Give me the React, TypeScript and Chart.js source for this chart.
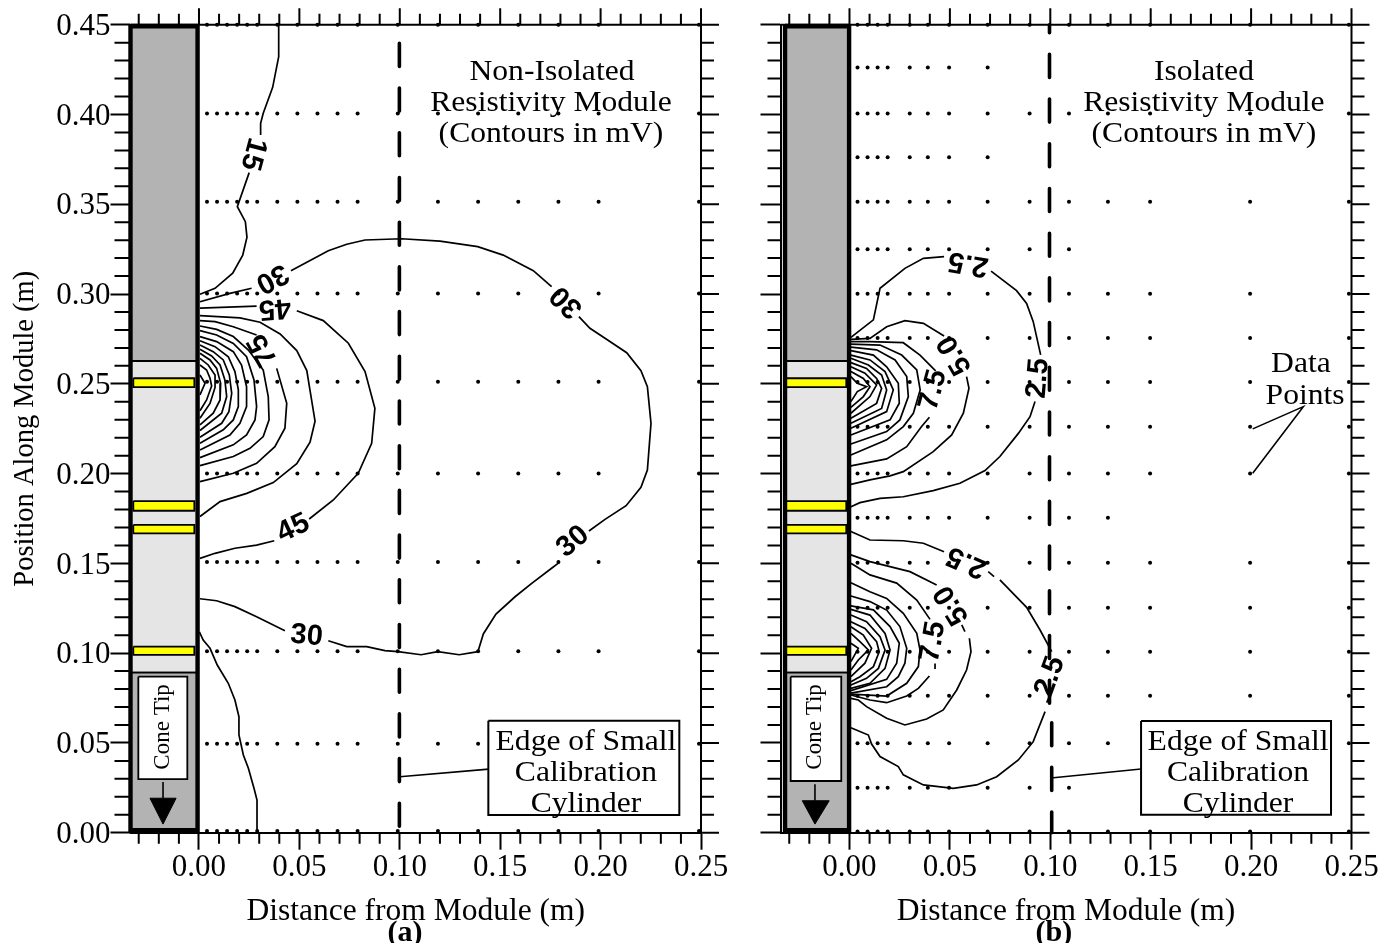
import React, { useEffect, useRef } from "react";
import { Chart, registerables } from "chart.js";

Chart.register(...registerables);

type P = [number, number];

const X_MAJOR = [0, 0.05, 0.1, 0.15, 0.2, 0.25];
const X_MINOR = [-0.03, -0.02, -0.01, 0.01, 0.02, 0.03, 0.04, 0.06, 0.07, 0.08, 0.09, 0.11, 0.12, 0.13, 0.14, 0.16, 0.17, 0.18, 0.19, 0.21, 0.22, 0.23, 0.24];
const Y_MAJOR = [0, 0.05, 0.1, 0.15, 0.2, 0.25, 0.3, 0.35, 0.4, 0.45];
const Y_MINOR = [0.01, 0.02, 0.03, 0.04, 0.06, 0.07, 0.08, 0.09, 0.11, 0.12, 0.13, 0.14, 0.16, 0.17, 0.18, 0.19, 0.21, 0.22, 0.23, 0.24, 0.26, 0.27, 0.28, 0.29, 0.31, 0.32, 0.33, 0.34, 0.36, 0.37, 0.38, 0.39, 0.41, 0.42, 0.43, 0.44];

// data point grid, panel (a)
const LEFT_DOT_X = [0.004, 0.009, 0.014, 0.019, 0.024, 0.029, 0.039, 0.049, 0.059, 0.069, 0.079, 0.099, 0.119, 0.139, 0.159, 0.179, 0.199, 0.249];
const LEFT_DOT_Y = [0.45, 0.4006, 0.3514, 0.3003, 0.2512, 0.2001, 0.1507, 0.101, 0.0496, 0.0009];

// data point grid, panel (b)
const RIGHT_DOT_X = [0.004, 0.009, 0.014, 0.019, 0.03, 0.039, 0.0496, 0.0688, 0.0897, 0.1093, 0.1287, 0.1497, 0.1995, 0.2487];
const RIGHT_DOT_X_SHORT = [0.004, 0.009, 0.014, 0.019, 0.03, 0.039, 0.0496, 0.0688];
const RIGHT_DOT_X_MID = [0.004, 0.009, 0.014, 0.019, 0.03, 0.039, 0.0496, 0.0688, 0.0897, 0.1093];
const RIGHT_DOT_X_MID2 = [0.004, 0.009, 0.014, 0.019, 0.03, 0.039, 0.0496, 0.0688, 0.0897, 0.1093, 0.1287];
const RIGHT_ROWS_FULL = [0.45, 0.4006, 0.3514, 0.3002, 0.2755, 0.251, 0.2261, 0.2, 0.1504, 0.1253, 0.1008, 0.0763, 0.0498, 0.0006];
const RIGHT_ROWS_SHORT = [0.4262, 0.3762];
const RIGHT_ROWS_MID = [0.325, 0.0251];
const RIGHT_ROWS_MID2 = [0.1754];

// contours, panel (a)
const A15_TOP_1: P[] = [[0.0397, 0.4499], [0.0397, 0.4322], [0.0367, 0.4151], [0.032, 0.4007], [0.0307, 0.3951], [0.0307, 0.3886]];
const A15_TOP_2: P[] = [[0.025, 0.3676], [0.0191, 0.3486], [0.0231, 0.3403], [0.0239, 0.3316], [0.0218, 0.3217], [0.0168, 0.3116], [0.008, 0.3032], [0.0005, 0.2999]];
const A15_LOW: P[] = [[0.0002, 0.1118], [0.0021, 0.1073], [0.0055, 0.1027], [0.0091, 0.0934], [0.0146, 0.0832], [0.0179, 0.0739], [0.0199, 0.0646], [0.0199, 0.0544], [0.0221, 0.0433], [0.0246, 0.0359], [0.0274, 0.0247], [0.0289, 0.0182], [0.0289, 0]];
const A30_1: P[] = [[0.0005, 0.2957], [0.0154, 0.3004], [0.0262, 0.3032]];
const A30_2: P[] = [[0.0458, 0.313], [0.0644, 0.3241], [0.0736, 0.3277], [0.0827, 0.3301], [0.1009, 0.3308], [0.12, 0.3295], [0.1388, 0.3264], [0.1515, 0.3217], [0.1665, 0.313], [0.1756, 0.3041]];
const A30_3: P[] = [[0.1892, 0.2874], [0.1947, 0.2809], [0.2022, 0.2754], [0.213, 0.2673], [0.2201, 0.2573], [0.2233, 0.2484], [0.2251, 0.228], [0.2233, 0.202], [0.2201, 0.1924], [0.2127, 0.1821], [0.2022, 0.1745], [0.1942, 0.168]];
const A30_4: P[] = [[0.1793, 0.1504], [0.1756, 0.1473], [0.1657, 0.1389], [0.1574, 0.1314], [0.1479, 0.1218], [0.1416, 0.1107], [0.1389, 0.1008], [0.1296, 0.0991], [0.1189, 0.1008], [0.1106, 0.0991], [0.0991, 0.1008], [0.0926, 0.1014], [0.0835, 0.1036], [0.0736, 0.1036], [0.0644, 0.1069]];
const A30_5: P[] = [[0.0428, 0.1125], [0.0287, 0.1203], [0.0179, 0.1259], [0.0088, 0.1292], [0.0005, 0.1303]];
const A45_1: P[] = [[0.0005, 0.2921], [0.0287, 0.2933]];
const A45_2: P[] = [[0.0487, 0.2907], [0.0619, 0.2852], [0.0744, 0.2726], [0.0827, 0.2568], [0.0876, 0.2364], [0.086, 0.2169], [0.0793, 0.2002], [0.0669, 0.1853], [0.0549, 0.1747]];
const A45_3: P[] = [[0.0375, 0.1626], [0.0287, 0.1602], [0.0179, 0.1584], [0.008, 0.1556], [0.0005, 0.1528]];
const A60: P[] = [[0.0005, 0.288], [0.0204, 0.2867], [0.0304, 0.2843], [0.0404, 0.2778], [0.0487, 0.2685], [0.0537, 0.2574], [0.0553, 0.2463], [0.0578, 0.2292], [0.0553, 0.2175], [0.0487, 0.2055], [0.037, 0.195], [0.0238, 0.189], [0.0105, 0.1844], [0.0005, 0.1761]];
const A75_1: P[] = [[0.0005, 0.2852], [0.008, 0.2846], [0.0171, 0.2818], [0.0287, 0.2772]];
const A75_2: P[] = [[0.0387, 0.2586], [0.0437, 0.2391], [0.0428, 0.2253], [0.0378, 0.215], [0.0287, 0.2057], [0.0171, 0.2002], [0.0005, 0.1955]];
const A90: P[] = [[0.0005, 0.2822], [0.0088, 0.2803], [0.0171, 0.2763], [0.0246, 0.2688], [0.032, 0.2577], [0.0345, 0.2429], [0.0349, 0.2299], [0.032, 0.2206], [0.0254, 0.2141], [0.0171, 0.2095], [0.0005, 0.2044]];
const A105: P[] = [[0.0005, 0.2796], [0.0088, 0.2772], [0.0171, 0.2725], [0.0237, 0.2651], [0.0274, 0.2521], [0.0287, 0.2373], [0.0279, 0.2299], [0.0237, 0.2215], [0.0171, 0.216], [0.0005, 0.2089]];
const A120: P[] = [[0.0005, 0.2763], [0.0088, 0.2735], [0.0171, 0.2679], [0.0212, 0.2605], [0.0237, 0.2484], [0.0237, 0.2373], [0.0204, 0.228], [0.0154, 0.2215], [0.0005, 0.2132]];
const A135: P[] = [[0.0005, 0.274], [0.008, 0.2707], [0.0146, 0.2651], [0.0179, 0.2568], [0.0196, 0.2466], [0.0196, 0.2373], [0.0171, 0.2299], [0.0121, 0.2244], [0.0005, 0.2169]];
const A150: P[] = [[0.0005, 0.2716], [0.0071, 0.2679], [0.0121, 0.2633], [0.0151, 0.2549], [0.0163, 0.2447], [0.0149, 0.2345], [0.0113, 0.228], [0.0005, 0.2202]];
const A165: P[] = [[0.0005, 0.2692], [0.0063, 0.2655], [0.0105, 0.2605], [0.0129, 0.2521], [0.0138, 0.2429], [0.0113, 0.2336], [0.0005, 0.224]];
const A180: P[] = [[0.0005, 0.267], [0.0055, 0.2633], [0.0088, 0.2586], [0.0108, 0.2503], [0.0105, 0.241], [0.0071, 0.2336], [0.0005, 0.2271]];
const A195: P[] = [[0.0005, 0.2642], [0.0046, 0.2605], [0.008, 0.2549], [0.008, 0.248], [0.0055, 0.2391], [0.0005, 0.2308]];
const A210: P[] = [[0.0005, 0.2605], [0.0038, 0.2577], [0.0055, 0.2531], [0.0063, 0.2488], [0.0038, 0.241], [0.0005, 0.235]];
const A225: P[] = [[0.0005, 0.2549], [0.003, 0.2503], [0.0005, 0.2438]];
const LEFT_CONTOURS = [A15_TOP_1, A15_TOP_2, A15_LOW, A30_1, A30_2, A30_3, A30_4, A30_5, A45_1, A45_2, A45_3, A60, A75_1, A75_2, A90, A105, A120, A135, A150, A165, A180, A195, A210, A225];

// contours, panel (b), upper lobe
const B25_U1: P[] = [[0.0007, 0.2759], [0.0119, 0.2856], [0.0152, 0.3032], [0.0276, 0.3143], [0.0368, 0.3199], [0.0471, 0.3208]];
const B25_U2: P[] = [[0.0705, 0.3128], [0.0832, 0.3019], [0.0882, 0.2948], [0.0915, 0.2846], [0.0952, 0.2661]];
const B25_U3: P[] = [[0.0924, 0.2401], [0.0899, 0.2317], [0.0841, 0.2224], [0.0749, 0.2095], [0.0675, 0.2017], [0.055, 0.1946], [0.0417, 0.1905], [0.0268, 0.1871], [0.0152, 0.1862], [0.0052, 0.1838], [0.0002, 0.1812]];
const B50_U1: P[] = [[0.0007, 0.2748], [0.0102, 0.2753], [0.0185, 0.2818], [0.0276, 0.2852], [0.0368, 0.2837], [0.0471, 0.2766]];
const B50_U2: P[] = [[0.0583, 0.254], [0.0595, 0.2475], [0.0567, 0.2336], [0.0509, 0.2215], [0.0417, 0.2122], [0.0268, 0.2011], [0.0202, 0.1987], [0.0102, 0.1965], [0.0007, 0.194]];
const B75_U1: P[] = [[0.0007, 0.2735], [0.0102, 0.2735], [0.0268, 0.2729], [0.0351, 0.266], [0.0429, 0.2572]];
const B75_U2: P[] = [[0.0398, 0.2314], [0.0359, 0.2262], [0.0285, 0.215], [0.0185, 0.2082], [0.0007, 0.2043]];
const B_U4: P[] = [[0.0007, 0.2721], [0.0152, 0.2716], [0.026, 0.266], [0.0335, 0.2577], [0.0352, 0.2466], [0.0318, 0.2336], [0.0268, 0.2262], [0.0185, 0.2188], [0.0007, 0.2104]];
const B_U5: P[] = [[0.0007, 0.2704], [0.0135, 0.2689], [0.0227, 0.2633], [0.0285, 0.254], [0.0293, 0.2429], [0.0251, 0.2299], [0.0185, 0.2234], [0.0007, 0.2165]];
const B_U6: P[] = [[0.0007, 0.2685], [0.0119, 0.266], [0.0185, 0.2595], [0.0243, 0.2503], [0.0248, 0.2392], [0.0202, 0.2299], [0.0007, 0.2215]];
const B_U7: P[] = [[0.0007, 0.266], [0.0102, 0.2633], [0.0177, 0.2568], [0.0218, 0.2466], [0.0185, 0.2345], [0.0007, 0.2252]];
const B_U8: P[] = [[0.0007, 0.2642], [0.0094, 0.2605], [0.016, 0.2549], [0.0185, 0.2466], [0.016, 0.2363], [0.0007, 0.228]];
const B_U9: P[] = [[0.0007, 0.2618], [0.0085, 0.2586], [0.0135, 0.253], [0.016, 0.2475], [0.0135, 0.2391], [0.0007, 0.2308]];
const B_U10: P[] = [[0.0007, 0.2595], [0.0077, 0.2559], [0.0135, 0.2494], [0.0102, 0.2429], [0.0007, 0.2336]];
const B_U11: P[] = [[0.0007, 0.2568], [0.0069, 0.253], [0.0102, 0.2484], [0.0069, 0.2429], [0.0007, 0.2369]];
const B_U12: P[] = [[0.0007, 0.254], [0.0039, 0.2503], [0.0085, 0.2484], [0.0039, 0.2457], [0.0007, 0.2401]];

// contours, panel (b), lower lobe
const B25_L1: P[] = [[0.0007, 0.1677], [0.0102, 0.163], [0.0268, 0.1626], [0.0368, 0.1612], [0.0471, 0.1565]];
const B25_L2: P[] = [[0.0691, 0.1454], [0.072, 0.1426]];
const B25_L3: P[] = [[0.0749, 0.1408], [0.0882, 0.1255], [0.0949, 0.1129], [0.1007, 0.1008]];
const B25_L4: P[] = [[0.0995, 0.0758], [0.0982, 0.0724]];
const B25_L5: P[] = [[0.0974, 0.0674], [0.0915, 0.0507], [0.0841, 0.0405], [0.0733, 0.0312], [0.0633, 0.0266], [0.0517, 0.0247], [0.0368, 0.0266], [0.0268, 0.0322], [0.0243, 0.0368], [0.0152, 0.0424], [0.011, 0.0494], [0.0094, 0.0544], [0.0007, 0.0585]];
const B50_L1: P[] = [[0.0007, 0.1547], [0.0102, 0.151], [0.0301, 0.1454], [0.0434, 0.138]];
const B50_L2: P[] = [[0.0559, 0.1157], [0.0575, 0.112]];
const B50_L3: P[] = [[0.0597, 0.1083], [0.0605, 0.1008], [0.0583, 0.0906], [0.0534, 0.0795], [0.0467, 0.0684], [0.0384, 0.0633], [0.0276, 0.06], [0.0185, 0.0637], [0.0085, 0.0702], [0.0044, 0.0739], [0.0007, 0.0748]];
const B75_L1: P[] = [[0.0007, 0.1501], [0.0102, 0.1436], [0.0235, 0.139], [0.0335, 0.1296], [0.0401, 0.1188]];
const B75_L2: P[] = [[0.0426, 0.0943], [0.0426, 0.0912]];
const B75_L3: P[] = [[0.0398, 0.0873], [0.0343, 0.0804], [0.0285, 0.0761], [0.0185, 0.0724], [0.0102, 0.0739], [0.0007, 0.0767]];
const B_L4: P[] = [[0.0007, 0.1392], [0.0102, 0.1342], [0.0185, 0.1305], [0.0268, 0.1222], [0.0335, 0.111], [0.0351, 0.1018], [0.0343, 0.0925], [0.0285, 0.0832], [0.0185, 0.0761], [0.0007, 0.0772]];
const B_L5: P[] = [[0.0007, 0.1318], [0.0102, 0.1287], [0.0185, 0.124], [0.0251, 0.1148], [0.0285, 0.1027], [0.0276, 0.0944], [0.0243, 0.0869], [0.0185, 0.0813], [0.0007, 0.0777]];
const B_L6: P[] = [[0.0007, 0.1263], [0.0119, 0.1241], [0.0202, 0.1148], [0.0248, 0.1055], [0.0235, 0.0944], [0.0185, 0.0854], [0.0007, 0.0791]];
const B_L7: P[] = [[0.0007, 0.1244], [0.0102, 0.1212], [0.0177, 0.111], [0.0202, 0.1018], [0.0177, 0.0915], [0.0102, 0.0832], [0.0007, 0.0804]];
const B_L8: P[] = [[0.0007, 0.1212], [0.0085, 0.1175], [0.0152, 0.1092], [0.0177, 0.1018], [0.0144, 0.0915], [0.0085, 0.086], [0.0007, 0.0823]];
const B_L9: P[] = [[0.0007, 0.1175], [0.0077, 0.1138], [0.0135, 0.1064], [0.0148, 0.1008], [0.0119, 0.0925], [0.0052, 0.0869], [0.0007, 0.0841]];
const B_L10: P[] = [[0.0007, 0.1147], [0.0069, 0.1101], [0.011, 0.1027], [0.0077, 0.0944], [0.0007, 0.0869]];
const B_L11: P[] = [[0.0007, 0.111], [0.0052, 0.1064], [0.0094, 0.1018], [0.0044, 0.0962], [0.0007, 0.0906]];
const B_L12: P[] = [[0.0007, 0.1055], [0.0044, 0.1027], [0.0007, 0.0953]];
const RIGHT_CONTOURS = [B25_U1, B25_U2, B25_U3, B50_U1, B50_U2, B75_U1, B75_U2, B_U4, B_U5, B_U6, B_U7, B_U8, B_U9, B_U10, B_U11, B_U12, B25_L1, B25_L2, B25_L3, B25_L4, B25_L5, B50_L1, B50_L2, B50_L3, B75_L1, B75_L2, B75_L3, B_L4, B_L5, B_L6, B_L7, B_L8, B_L9, B_L10, B_L11, B_L12];

// contour labels: text, x, y, angle in degrees
type Label = [string, number, number, number];
const LEFT_LABELS: Label[] = [
  ["15", 0.0269, 0.378, 105],
  ["30", 0.0364, 0.3089, 152],
  ["45", 0.0378, 0.2922, 175],
  ["75", 0.0319, 0.2688, 241],
  ["30", 0.1831, 0.2957, 225],
  ["30", 0.1863, 0.1621, -40],
  ["45", 0.047, 0.1695, -25],
  ["30", 0.0536, 0.1096, 5],
];
const RIGHT_LABELS: Label[] = [
  ["2.5", 0.0592, 0.3171, 190],
  ["5.0", 0.0525, 0.266, 240],
  ["7.5", 0.0417, 0.2466, -75],
  ["2.5", 0.094, 0.2531, -85],
  ["2.5", 0.0584, 0.1509, 204],
  ["5.0", 0.0509, 0.1268, 238],
  ["7.5", 0.0417, 0.1064, -80],
  ["2.5", 0.0999, 0.0869, -70],
];

// free text in the panels: text, x, y
type Note = [string, number, number];
const LEFT_NOTES: Note[] = [
  ["Non-Isolated", 0.1758, 0.4236],
  ["Resistivity Module", 0.1753, 0.4063],
  ["(Contours in mV)", 0.1753, 0.3891],
  ["Edge of Small", 0.1927, 0.0504],
  ["Calibration", 0.1927, 0.0332],
  ["Cylinder", 0.1927, 0.0159],
];
const RIGHT_NOTES: Note[] = [
  ["Isolated", 0.1765, 0.4236],
  ["Resistivity Module", 0.1765, 0.4063],
  ["(Contours in mV)", 0.1765, 0.3891],
  ["Edge of Small", 0.1935, 0.0504],
  ["Calibration", 0.1935, 0.0332],
  ["Cylinder", 0.1935, 0.0159],
  ["Data", 0.2248, 0.2609],
  ["Points", 0.2269, 0.2431],
];

// module drawing
const LEFT_MODULE = { l: -0.0341, r: -0.0007, yl: -0.0327, yr: -0.0023 };
const RIGHT_MODULE = { l: -0.0321, r: -0.0002, yl: -0.0326, yr: -0.0016 };
const SECTION_TOP = [0.45, 0.2627];
const SECTION_MID = [0.2627, 0.0891];
const SECTION_TIP = [0.0891, 0];
const BANDS: P[] = [[0.2531, 0.2481], [0.1847, 0.1793], [0.1714, 0.1667], [0.1036, 0.099]];

const LEFT_CONE = { l: -0.0302, r: -0.0058, top: 0.0869, bottom: 0.0298, cx: -0.0179, tl: -0.0244, tr: -0.0114, start: 0.0282, ttop: 0.0192, tip: 0.0048 };
const RIGHT_CONE = { l: -0.0293, r: -0.0041, top: 0.0869, bottom: 0.0288, cx: -0.0172, tl: -0.0235, tr: -0.0101, start: 0.027, ttop: 0.0178, tip: 0.0048 };

const LEFT_EDGE: P[] = [[0.0998, 0.45], [0.0998, 0]];
const RIGHT_EDGE: P[] = [[0.0996, 0.45], [0.0996, 0.065], [0.1007, 0.065], [0.1007, 0]];
const LEFT_BOX = { l: 0.1441, r: 0.2392, top: 0.0624, bottom: 0.0099 };
const RIGHT_BOX = { l: 0.1452, r: 0.2398, top: 0.0622, bottom: 0.01 };
const LEFT_LEADER: P[] = [[0.1, 0.0312], [0.1443, 0.0354]];
const RIGHT_LEADER: P[] = [[0.1003, 0.0305], [0.1452, 0.0355]];
const DATA_LEADER: P[] = [[0.2008, 0.2249], [0.226, 0.2373], [0.2008, 0.2002]];

const SERIF = "'Liberation Serif', serif";
const SANS = "'Liberation Sans', sans-serif";

function rect(l: number, r: number, t: number, b: number): P[] {
  return [[l, t], [r, t], [r, b], [l, b], [l, t]];
}

function lineSet(points: P[], width: number, extra: any = {}) {
  return {
    type: "scatter",
    data: points.map(([x, y]) => ({ x, y })),
    showLine: true,
    tension: 0,
    borderColor: "#000",
    borderWidth: width,
    pointRadius: 0,
    fill: false,
    clip: false,
    ...extra,
  };
}

function fillSet(points: P[], color: string, width: number) {
  return lineSet(points, width, { fill: "shape", backgroundColor: color, borderJoinStyle: "miter" });
}

function dotSet(xs: number[], ys: number[]) {
  const data: { x: number; y: number }[] = [];
  ys.forEach((y) => xs.forEach((x) => data.push({ x, y })));
  return {
    type: "scatter",
    data,
    showLine: false,
    pointRadius: 2,
    pointBackgroundColor: "#000",
    pointBorderWidth: 0,
    clip: false,
  };
}

function buildDatasets(panel: "a" | "b") {
  const left = panel === "a";
  const m = left ? LEFT_MODULE : RIGHT_MODULE;
  const cone = left ? LEFT_CONE : RIGHT_CONE;
  const box = left ? LEFT_BOX : RIGHT_BOX;
  const contours = left ? LEFT_CONTOURS : RIGHT_CONTOURS;
  const sets: any[] = [];

  if (left) {
    sets.push(dotSet(LEFT_DOT_X, LEFT_DOT_Y));
  } else {
    sets.push(dotSet(RIGHT_DOT_X, RIGHT_ROWS_FULL));
    sets.push(dotSet(RIGHT_DOT_X_SHORT, RIGHT_ROWS_SHORT));
    sets.push(dotSet(RIGHT_DOT_X_MID, RIGHT_ROWS_MID));
    sets.push(dotSet(RIGHT_DOT_X_MID2, RIGHT_ROWS_MID2));
  }
  contours.forEach((c) => sets.push(lineSet(c, 1.7)));
  sets.push(
    lineSet(left ? LEFT_EDGE : RIGHT_EDGE, 3.6, {
      borderDash: [23, 21.7],
      borderDashOffset: left ? 26 : 15,
      borderCapStyle: "round",
    })
  );
  sets.push(lineSet(left ? LEFT_LEADER : RIGHT_LEADER, 1.6));
  if (!left) sets.push(lineSet(DATA_LEADER, 1.6));
  sets.push(fillSet(rect(box.l, box.r, box.top, box.bottom), "#fff", 2));

  sets.push(fillSet(rect(m.l, m.r, SECTION_TOP[0], SECTION_TOP[1]), "#b3b3b3", 1.8));
  sets.push(fillSet(rect(m.l, m.r, SECTION_MID[0], SECTION_MID[1]), "#e5e5e5", 1.8));
  sets.push(fillSet(rect(m.l, m.r, SECTION_TIP[0], SECTION_TIP[1]), "#b3b3b3", 1.8));
  BANDS.forEach(([t, b]) => sets.push(fillSet(rect(m.yl, m.yr, t, b), "#ffff00", 1.8)));
  sets.push(fillSet(rect(cone.l, cone.r, cone.top, cone.bottom), "#fff", 1.8));
  sets.push(lineSet([[cone.cx, cone.start], [cone.cx, cone.ttop]], 1.6));
  sets.push(fillSet([[cone.tl, cone.ttop], [cone.tr, cone.ttop], [cone.cx, cone.tip], [cone.tl, cone.ttop]], "#000", 1));
  sets.push(lineSet([[m.l, 0.45], [m.l, 0]], 4.4, { borderCapStyle: "butt" }));
  sets.push(lineSet([[m.r, 0.45], [m.r, 0]], 4.4, { borderCapStyle: "butt" }));
  sets.push(lineSet([[m.l, 0.449], [m.r, 0.449]], 4.2));
  sets.push(lineSet([[m.l, 0.0015], [m.r, 0.0015]], 4.2));
  // datasets with a lower order are painted later, so each entry lands on top of the previous ones
  sets.forEach((s, i) => (s.order = -i));
  return sets;
}

function panelPlugin(panel: "a" | "b") {
  const left = panel === "a";
  return {
    id: "panelDecor" + panel,
    afterDatasetsDraw(chart: any) {
      const { ctx, chartArea, scales } = chart;
      const xs = scales.x;
      const ys = scales.y;
      const { top, bottom, left: l, right: r } = chartArea;
      ctx.save();
      ctx.strokeStyle = "#000";
      ctx.lineWidth = 2;
      ctx.beginPath();
      ctx.moveTo(l, top);
      ctx.lineTo(r + 1, top);
      ctx.moveTo(r, top);
      ctx.lineTo(r, bottom);
      X_MINOR.forEach((v) => {
        const p = xs.getPixelForValue(v);
        ctx.moveTo(p, bottom);
        ctx.lineTo(p, bottom + 11);
        ctx.moveTo(p, top);
        ctx.lineTo(p, top - 11);
      });
      X_MAJOR.forEach((v) => {
        const p = xs.getPixelForValue(v);
        ctx.moveTo(p, top);
        ctx.lineTo(p, top - 16.5);
      });
      Y_MINOR.forEach((v) => {
        const p = ys.getPixelForValue(v);
        ctx.moveTo(l, p);
        ctx.lineTo(l - (left ? 16 : 13), p);
        ctx.moveTo(r, p);
        ctx.lineTo(r + 13, p);
      });
      Y_MAJOR.forEach((v) => {
        const p = ys.getPixelForValue(v);
        ctx.moveTo(r, p);
        ctx.lineTo(r + 18, p);
      });
      ctx.stroke();

      ctx.fillStyle = "#000";
      ctx.textAlign = "center";
      ctx.textBaseline = "middle";

      (left ? LEFT_NOTES : RIGHT_NOTES).forEach(([t, x, y]) => {
        ctx.save();
        ctx.translate(xs.getPixelForValue(x), ys.getPixelForValue(y));
        ctx.scale(1.09, 1);
        ctx.font = `29px ${SERIF}`;
        ctx.fillText(t, 0, 0);
        ctx.restore();
      });

      (left ? LEFT_LABELS : RIGHT_LABELS).forEach(([t, x, y, a]) => {
        ctx.save();
        ctx.translate(xs.getPixelForValue(x), ys.getPixelForValue(y));
        ctx.rotate((a * Math.PI) / 180);
        ctx.font = `bold 29px ${SANS}`;
        ctx.fillText(t, 0, 0);
        ctx.restore();
      });

      ctx.save();
      ctx.translate(xs.getPixelForValue(left ? LEFT_CONE.cx : RIGHT_CONE.cx), ys.getPixelForValue(0.0589));
      ctx.rotate(-Math.PI / 2);
      ctx.font = `23px ${SERIF}`;
      ctx.fillText("Cone Tip", 0, 0);
      ctx.restore();

      ctx.font = `bold 30px ${SERIF}`;
      ctx.fillText(left ? "(a)" : "(b)", xs.getPixelForValue(left ? 0.1026 : 0.1018), ys.getPixelForValue(-0.056));
      ctx.restore();
    },
  };
}

function buildConfig(panel: "a" | "b") {
  const left = panel === "a";
  const tickFont = { family: SERIF, size: 31 };
  return {
    type: "scatter",
    data: { datasets: buildDatasets(panel) },
    plugins: [panelPlugin(panel)],
    options: {
      responsive: false,
      animation: false,
      layout: { padding: { top: 24.7, left: 0, right: left ? 39 : 37.5, bottom: 0 } },
      plugins: { legend: { display: false }, tooltip: { enabled: false } },
      events: [],
      scales: {
        x: {
          type: "linear",
          min: left ? -0.0341 : -0.03436,
          max: 0.25,
          afterBuildTicks: (s: any) => {
            s.ticks = X_MAJOR.map((value) => ({ value }));
          },
          afterFit: (s: any) => {
            s.height = 110.3;
            s.paddingLeft = 0;
            s.paddingRight = 0;
          },
          grid: { drawOnChartArea: false, tickLength: 17, tickWidth: 2, tickColor: "#000" },
          border: { display: true, width: 2, color: "#000" },
          ticks: {
            autoSkip: false,
            maxRotation: 0,
            padding: 0,
            color: "#000",
            font: tickFont,
            callback: (v: number) => Number(v).toFixed(2),
          },
          title: {
            display: true,
            text: "Distance from Module (m)",
            color: "#000",
            font: { family: SERIF, size: 31.5 },
            padding: { top: 0, bottom: 12 },
          },
        },
        y: {
          type: "linear",
          min: 0,
          max: 0.45,
          afterBuildTicks: (s: any) => {
            s.ticks = Y_MAJOR.map((value) => ({ value }));
          },
          afterFit: (s: any) => {
            s.width = left ? 130.5 : 40.5;
            s.paddingTop = 0;
            s.paddingBottom = 0;
          },
          grid: { drawOnChartArea: false, tickLength: 20, tickWidth: 2, tickColor: "#000" },
          border: { display: true, width: 2, color: "#000" },
          ticks: {
            display: left,
            autoSkip: false,
            padding: 0,
            labelOffset: 2,
            color: "#000",
            font: tickFont,
            callback: (v: number) => Number(v).toFixed(2),
          },
          title: {
            display: left,
            text: "Position Along Module (m)",
            color: "#000",
            font: { family: SERIF, size: 28.5 },
            padding: { top: 8.5, bottom: 0 },
          },
        },
      },
    },
  };
}

function Panel({ panel, x, width }: { panel: "a" | "b"; x: number; width: number }) {
  const ref = useRef<HTMLCanvasElement>(null);
  useEffect(() => {
    if (!ref.current) return;
    const chart = new Chart(ref.current, buildConfig(panel) as any);
    return () => chart.destroy();
  }, [panel]);
  return (
    <canvas
      ref={ref}
      width={width}
      height={943}
      style={{ position: "absolute", left: x, top: 0, width, height: 943, display: "block" }}
    />
  );
}

export default function App() {
  return (
    <div style={{ position: "absolute", left: 0, top: 0, width: 1389, height: 943, overflow: "hidden", background: "#fff" }}>
      <Panel panel="a" x={0} width={740} />
      <Panel panel="b" x={740} width={649} />
    </div>
  );
}
